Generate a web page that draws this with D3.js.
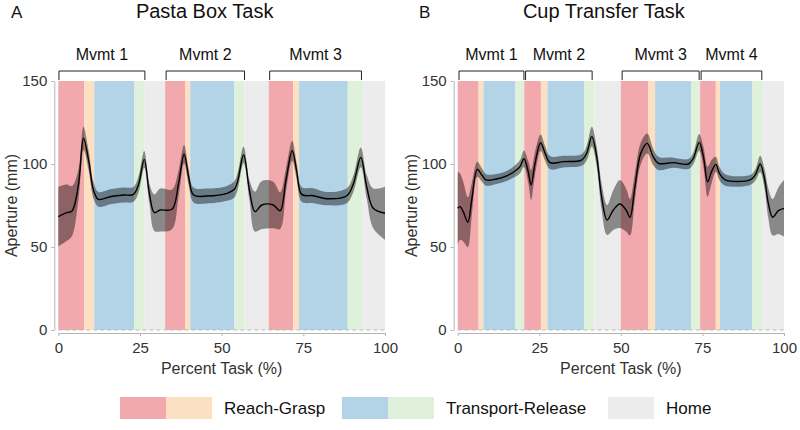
<!DOCTYPE html>
<html><head><meta charset="utf-8">
<script src="https://cdn.jsdelivr.net/npm/d3@7"></script>
<style>
html,body{margin:0;padding:0;background:#fff;}
text{font-family:"Liberation Sans",Arial,Helvetica,sans-serif;}
</style></head>
<body><svg id="chart" width="800" height="430"></svg>
<script>
// ---------- DATA ----------
const phaseNames = ["Reach","Grasp","Transport","Release","Home"];
const phaseColors = ["#f1a9ad","#fddfc1","#b3d3e7","#dff1db","#ececec"];

const titleA = "Pasta Box Task";
const boundsA = [0,7.9,11,23.3,26.4,32.7,38.8,40.4,53.9,57,64.4,71.9,73.7,88.6,93.2,100];
const phasesA = ["Reach","Grasp","Transport","Release","Home","Reach","Grasp","Transport","Release","Home","Reach","Grasp","Transport","Release","Home"];
const mvmtLabelsA = ["Mvmt 1","Mvmt 2","Mvmt 3"];
const mvmtStartA = [0.2,33,64.7];
const mvmtEndA = [26.5,57,92.8];
const pctA = [0,2.6,4.2,6.2,7.7,9.3,10.8,12.3,15.9,20,23,24.6,26.3,27.9,29.4,31.2,34.8,36.8,38.5,39.9,41.4,45.5,51.6,54.1,56.7,58.5,60.2,62.3,65.8,67.9,69.7,71.6,73,74.5,78.1,82.2,88.3,90.3,92.6,94.4,96.4,100];
const meanA = [68.3,70.7,71.7,88,115.5,102,84,78.7,80.3,81.3,81.7,88,102.8,82,70.7,72.3,72.7,88,106,92.3,81.3,80.7,82.3,85.3,105.4,84.3,71.3,75.3,75.3,71.9,90.4,108,95.4,81.7,80.9,79.1,80.9,88,104,86.3,73.3,70.3];
const sdA = [18,17,15,9,7,6,5,4.5,4.5,4.5,4.5,5,5,6,11,13,12,8,5.5,5,4.5,4.5,4.5,5,5,6,12,14.5,14,11,7,6,5,4.5,4.5,4,4.5,5,6,7,12,16];

const titleB = "Cup Transfer Task";
const boundsB = [0,6.4,7.9,17.7,20.4,25.5,27.5,38.7,41.9,50,58.4,60.5,71.5,74.3,79.1,80.4,90.2,93.5,100];
const phasesB = ["Reach","Grasp","Transport","Release","Reach","Grasp","Transport","Release","Home","Reach","Grasp","Transport","Release","Reach","Grasp","Transport","Release","Home"];
const mvmtLabelsB = ["Mvmt 1","Mvmt 2","Mvmt 3","Mvmt 4"];
const mvmtStartB = [0.4,20.8,50.4,74.6];
const mvmtEndB = [20.3,41.2,74,93.2];
const pctB = [0,0.7,1.7,3.1,4.3,6,7.4,8.7,11.9,15,17.6,19.1,20.3,21.6,22.5,23.7,25.4,26.8,28.3,32.4,38,39.5,41.1,42.6,44.1,45.8,47.7,49.7,51.6,52.8,54.3,56.1,58.1,59.9,61.5,66.1,70.7,72.2,74,75.3,76.6,77.8,79.1,80.2,82,89.6,91.2,92.7,94,95.2,96.5,98.3,100];
const meanB = [73.3,74.3,71.3,64.9,78.3,96.8,93.4,90.4,91,92.8,95.8,98.4,103.2,95.4,87.3,100.4,112.8,106.4,100.8,101.4,102.4,106.4,116.5,104.4,80.3,66.3,72.3,75.9,72.3,67.9,86.3,106.4,112.4,104.4,100.4,100.8,100,103.4,113,104.4,89.3,95.4,99.8,94.4,90.4,90.4,93.4,100,91.4,76.3,67.9,71.9,73.3];
const sdB = [22,20,18,15,10,4.5,4,3.5,3,3,3.5,4,5,6.5,9,7,5,4.5,4,3.5,3.5,4.5,6,6,8,9,12,14.5,13,11,8,6.5,6,5,4,3,3,3.5,5,6,9,7,4.5,4,3.5,3,3.5,5,6,9,11,14,17];

const xTicks = [0,25,50,75,100];
const yTicks = [0,50,100,150];
const legendGroups = [["Reach","Grasp"],["Transport","Release"],["Home"]];
const legendLabels = ["Reach-Grasp","Transport-Release","Home"];

// ---------- DRAW ----------
const svg = d3.select("#chart");
const color = d3.scaleOrdinal().domain(phaseNames).range(phaseColors);

function panel(opt){
  const x = d3.scaleLinear().domain([0,100]).range([opt.x0, opt.x1]);
  const y = d3.scaleLinear().domain([0,150]).range([330, 81]);
  const g = svg.append("g");

  // phase rects
  const segs = opt.phases.map((p,i)=>({p, s:opt.bounds[i], e:opt.bounds[i+1]}));
  g.selectAll("rect.ph").data(segs).join("rect")
    .attr("x", d=>x(d.s)).attr("width", d=>x(d.e)-x(d.s))
    .attr("y", y(150)).attr("height", y(0)-y(150))
    .attr("fill", d=>color(d.p));

  // dashed zero line
  g.append("line").attr("x1",x(0)).attr("x2",x(100)).attr("y1",y(0)).attr("y2",y(0))
    .attr("stroke","#bdbdbd").attr("stroke-width",1).attr("stroke-dasharray","4,3");

  const pts = opt.pct.map((p,i)=>({p, m:opt.mean[i], s:opt.sd[i]}));
  const curve = d3.curveCatmullRom.alpha(0.5);
  g.append("path").datum(pts)
    .attr("d", d3.area().x(d=>x(d.p)).y0(d=>y(d.m-d.s)).y1(d=>y(d.m+d.s)).curve(curve))
    .attr("fill","#000").attr("fill-opacity",0.42);
  g.append("path").datum(pts)
    .attr("d", d3.line().x(d=>x(d.p)).y(d=>y(d.m)).curve(curve))
    .attr("fill","none").attr("stroke","#000").attr("stroke-width",1.4);

  // axes
  const xa = g.append("g").attr("transform","translate(0,333)")
    .call(d3.axisBottom(x).tickValues(xTicks).tickSize(3).tickSizeOuter(0).tickPadding(6));
  const ya = g.append("g").attr("transform",`translate(${opt.x0-4},0)`)
    .call(d3.axisLeft(y).tickValues(yTicks).tickSize(3).tickSizeOuter(0).tickPadding(4));
  [xa,ya].forEach(a=>{
    a.select(".domain").attr("stroke","#b5b5b5");
    a.selectAll(".tick line").attr("stroke","#b5b5b5");
    a.selectAll(".tick text").attr("fill","#333").style("font-size","15px")
      .style("font-family",'"Liberation Sans",Arial,sans-serif');
  });

  // axis titles
  g.append("text").attr("x",(opt.x0+opt.x1)/2).attr("y",374).attr("text-anchor","middle")
    .attr("fill","#333").style("font-size","16px").text("Percent Task (%)");
  g.append("text").attr("transform",`translate(${opt.x0-41},${(y(0)+y(150))/2}) rotate(-90)`)
    .attr("text-anchor","middle").attr("fill","#333").style("font-size","16px").text("Aperture (mm)");

  // brackets
  const br = opt.mStart.map((s,i)=>({s, e:opt.mEnd[i], l:opt.mLabels[i]}));
  const top = y(150)-10, bot = y(150)-1;
  g.selectAll("path.br").data(br).join("path")
    .attr("d", d=>`M${x(d.s)},${bot}V${top}H${x(d.e)}V${bot}`)
    .attr("fill","none").attr("stroke","#222").attr("stroke-width",1);
  g.selectAll("text.br").data(br).join("text")
    .attr("x", d=>(x(d.s)+x(d.e))/2).attr("y", top-11).attr("text-anchor","middle")
    .attr("fill","#111").style("font-size","16px").text(d=>d.l);

  // title + letter
  g.append("text").attr("x",(opt.x0+opt.x1)/2-17).attr("y",18).attr("text-anchor","middle")
    .attr("fill","#111").style("font-size","20px").text(opt.title);
  g.append("text").attr("x",opt.letterX).attr("y",18)
    .attr("fill","#111").style("font-size","17px").text(opt.letter);
}

panel({x0:58.3,x1:385,bounds:boundsA,phases:phasesA,pct:pctA,mean:meanA,sd:sdA,
  mStart:mvmtStartA,mEnd:mvmtEndA,mLabels:mvmtLabelsA,title:titleA,letter:"A",letterX:11});
panel({x0:457.7,x1:784,bounds:boundsB,phases:phasesB,pct:pctB,mean:meanB,sd:sdB,
  mStart:mvmtStartB,mEnd:mvmtEndB,mLabels:mvmtLabelsB,title:titleB,letter:"B",letterX:419});

// legend
const lg = svg.append("g");
const legX = [120, 342, 608];
legendGroups.forEach((grp,gi)=>{
  grp.forEach((p,pi)=>{
    lg.append("rect").attr("x",legX[gi]+pi*46).attr("y",397).attr("width",46).attr("height",22)
      .attr("fill",color(p));
  });
  lg.append("text").attr("x",legX[gi]+grp.length*46+12).attr("y",414)
    .attr("fill","#111").style("font-size","17px").text(legendLabels[gi]);
});
</script></body></html>
